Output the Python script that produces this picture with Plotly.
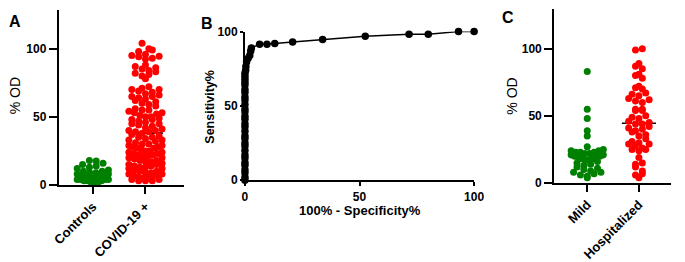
import numpy as np
import plotly.graph_objects as go

W, H = 685, 262
FONT = "Liberation Sans, Arial, sans-serif"
GREEN = "#008000"
RED = "#FF0000"

# ---------------- data ----------------
groups_a = ["Controls", "COVID-19 +"]
controls = [18, 17.5, 16, 15, 14, 13, 12, 11, 10, 10, 9, 9, 8, 8, 8, 7, 7, 7, 7, 7,
            6, 6, 6, 6, 6, 6, 5, 5, 5, 5, 5, 5, 4, 4, 4, 4, 3, 3, 3, 2, 2, 1]
covid = [104, 100, 99, 98, 96, 95, 94, 93, 92.5, 94.5, 88, 87, 86, 85, 84, 83, 82, 81, 80, 78,
         72, 71, 70, 70, 69, 68, 67, 66, 65, 65, 64, 63, 62, 61, 60, 59,
         58, 56, 55, 55, 54, 53, 53, 52, 51, 50, 50, 49, 48, 48,
         47, 46, 45, 45, 44, 43, 42, 41, 40, 40, 39, 39, 38,
         37, 36, 35, 35, 34, 33, 33, 32,
         31, 30, 30, 29, 29, 28, 28, 27, 27,
         26, 25, 25, 24, 24, 23, 23, 22, 22,
         21, 21, 20, 20, 19, 18, 18, 17, 17,
         16, 15, 15, 14, 14, 13, 13, 12, 12,
         11, 10, 10, 9, 9, 8, 8, 7, 7,
         6, 6, 5, 5, 4, 4, 3, 3, 3]

roc_fpr = [0, 0, 0, 0, 0, 0, 0, 0, 0, 0, 0, 0, 0, 0, 0, 0, 0, 0, 0, 0,
           0, 0, 0, 0, 0, 0, 0, 0, 0, 0, 0.3, 0.4, 0.7, 1.4, 2.1, 2.5, 2.8,
           6.4, 9.6, 13, 20.8, 33.9, 52.5, 71.6, 80, 93.2, 100]
roc_sens = [0, 2, 5, 7, 10, 12, 15, 17, 20, 23, 25, 28, 30, 33, 36, 38, 41, 43, 46, 48,
            51, 54, 56, 59, 61, 64, 66, 68, 70, 72, 74, 76.5, 79.5, 82, 84, 87, 89,
            91.5, 91.5, 92, 93, 94.7, 96.8, 98.3, 98.3, 100, 100]

groups_c = ["Mild", "Hospitalized"]
mild = [83, 55, 48, 39, 35, 27, 25, 24, 24, 23, 23, 23, 22, 22, 21, 21, 20, 20, 19, 19,
        18, 18, 17, 17, 16, 15, 14, 13, 12, 11, 10, 9, 8, 8, 7, 6, 5, 4]
hosp = [100, 99, 89, 87, 85, 81, 80, 78, 72, 71, 70, 67, 66, 65, 63, 62, 61, 60, 55, 55,
        54, 54, 50, 49, 48, 46, 45, 44, 44, 42, 41, 40, 39, 38, 36, 35, 33, 31, 30, 29,
        29, 28, 26, 25, 25, 24, 19, 15, 14, 12, 9, 7, 6, 4]


# ---------------- helpers ----------------
def swarm(vals, ypx, maxhalf, d=7.0, bin_px=6.0):
    """GraphPad-like scatter: values binned in rows, spread sideways from the centre."""
    vals = np.asarray(vals, float)
    binh = bin_px / ypx
    bins = np.floor(vals / binh).astype(int)
    offs = np.zeros(len(vals))
    for b in np.unique(bins):
        idx = np.where(bins == b)[0]
        idx = idx[np.argsort(vals[idx], kind="stable")]
        k = len(idx)
        if k == 1:
            continue
        s = min(d, 2 * maxhalf / (k - 1))
        if k % 2:
            slots = [0.0]
            for j in range(1, k // 2 + 1):
                slots += [j, -j]
        else:
            slots = []
            for j in range(k // 2):
                slots += [j + 0.5, -(j + 0.5)]
        if b % 2:
            slots = [-v for v in slots]
        for i, sl in zip(idx, slots[:k]):
            offs[i] = sl * s
    return offs


def px(x):
    return x / W


def py(y):
    return 1 - y / H


fig = go.Figure()

A_XPX, A_YPX = 54.0, 1.44
C_XPX, C_YPX = 53.0, 1.42
MS = 7


def add_group(vals, idx, color, xa, ya, xpx, ypx, half):
    offs = swarm(vals, ypx, half) / xpx
    med = float(np.median(vals))
    fig.add_trace(go.Scatter(x=[idx - 0.33, idx + 0.33], y=[med, med], mode="lines",
                             line=dict(color="black", width=1.6), xaxis=xa, yaxis=ya,
                             showlegend=False, hoverinfo="skip"))
    fig.add_trace(go.Scatter(x=idx + offs, y=vals, mode="markers",
                             marker=dict(size=MS, color=color, line=dict(width=0)),
                             xaxis=xa, yaxis=ya, showlegend=False, cliponaxis=False))


add_group(controls, 0, GREEN, "x", "y", A_XPX, A_YPX, 16)
add_group(covid, 1, RED, "x", "y", A_XPX, A_YPX, 17)
add_group(mild, 0, GREEN, "x3", "y3", C_XPX, C_YPX, 16.5)
add_group(hosp, 1, RED, "x3", "y3", C_XPX, C_YPX, 16)

fig.add_trace(go.Scatter(x=roc_fpr, y=roc_sens, mode="lines+markers",
                         line=dict(color="black", width=1.5),
                         marker=dict(size=7.5, color="black"),
                         xaxis="x2", yaxis="y2", showlegend=False, cliponaxis=False))

tickfont = dict(family=FONT, size=12, color="black", weight="bold")
axcommon = dict(showline=True, linecolor="black", linewidth=1.8, showgrid=False,
                zeroline=False, ticks="outside", tickcolor="black", tickwidth=1.6,
                tickfont=tickfont)

fig.update_layout(
    width=W, height=H,
    margin=dict(l=0, r=0, t=0, b=0),
    paper_bgcolor="white", plot_bgcolor="white",
    xaxis=dict(domain=[px(53), px(182)], range=[-0.648, 1.741], tickvals=[0, 1],
               ticktext=groups_a, tickangle=-45, ticklen=7, anchor="y",
               **{**axcommon, "tickfont": dict(tickfont, size=13)}),
    yaxis=dict(domain=[py(188), py(3)], range=[0, 128.5], tickvals=[0, 50, 100],
               ticklen=8, anchor="x", **axcommon),
    xaxis2=dict(domain=[px(244), px(479)], range=[0, 100], tickvals=[0, 50, 100],
                ticklen=4, anchor="y2", **axcommon),
    yaxis2=dict(domain=[py(183), py(26)], range=[0, 100], tickvals=[0, 50, 100],
                ticklen=3, anchor="x2", **axcommon),
    xaxis3=dict(domain=[px(561), px(681)], range=[-0.642, 1.623], tickvals=[0, 1],
                ticktext=groups_c, tickangle=-45, ticklen=7, anchor="y3",
                **{**axcommon, "tickfont": dict(tickfont, size=13)}),
    yaxis3=dict(domain=[py(186), py(2)], range=[0, 129.6], tickvals=[0, 50, 100],
                ticklen=8, anchor="x3", **axcommon),
)

ann = []
for t, x, y in [("A", 0, 4), ("B", 197, 6), ("C", 506, 0)]:
    ann.append(dict(text=t, x=px(x), y=py(y), xref="paper", yref="paper",
                    xanchor="left", yanchor="top", showarrow=False,
                    font=dict(family=FONT, size=16, color="black", weight="bold")))
for t, x, y, ang, bold, size in [("% OD", 8.5, 94, -90, False, 14),
                                  ("% OD", 517.5, 94, -90, False, 14),
                                  ("Sensitivity%", 208, 105.5, -90, True, 12.5),
                                  ("100% - Specificity%", 362, 215, 0, True, 13)]:
    ann.append(dict(text=t, x=px(x), y=py(y), xref="paper", yref="paper",
                    xanchor="center", yanchor="middle", showarrow=False, textangle=ang,
                    font=dict(family=FONT, size=size, color="black",
                              weight="bold" if bold else "normal")))
fig.update_layout(annotations=ann)

fig.write_html("out.html", config={"displayModeBar": False},
               post_script="document.body.style.margin='0px';")
